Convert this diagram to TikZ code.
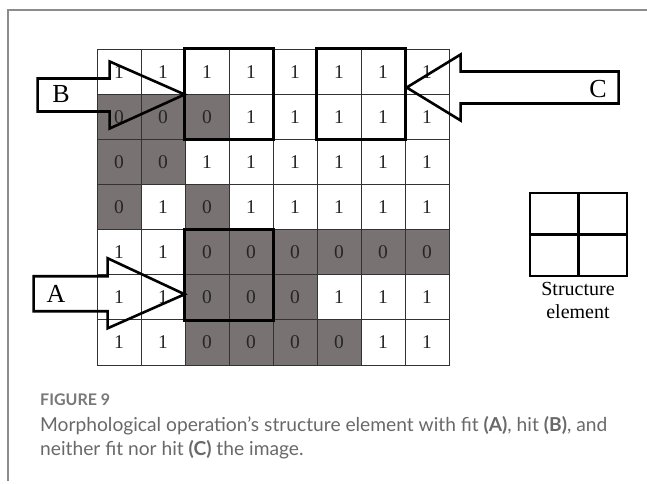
\documentclass[tikz,border=0pt]{standalone}
\usepackage{fontspec}
\setmainfont{Liberation Serif}
\newfontfamily\capfont{Lato}
\usetikzlibrary{calc}
\definecolor{cellgray}{RGB}{120,114,114}
\definecolor{cellline}{RGB}{50,50,50}
\definecolor{framegray}{RGB}{140,140,140}
\definecolor{captext}{RGB}{105,105,105}
\definecolor{capfig}{RGB}{120,120,120}
\tikzset{
  cellbox/.style={draw=cellline, line width=0.7pt, minimum width=44pt, minimum height=45.14pt, inner sep=0pt, font=\fontsize{19.5}{19.5}\selectfont, text=black!85},
  zerocell/.style={cellbox, fill=cellgray},
  onecell/.style={cellbox, fill=white},
  thickbox/.style={draw=black, line width=2.8pt},
  arrowline/.style={draw=black, line width=2.6pt, line join=miter},
  arrowlbl/.style={font=\fontsize{26}{26}\selectfont, inner sep=0pt},
  sebox/.style={draw=black, line width=2.4pt, minimum width=48.5pt, minimum height=41.5pt, inner sep=0pt},
  framel/.style={draw=framegray, line width=1.4pt},
}
\begin{document}
\begin{tikzpicture}[x=1pt,y=-1pt]
\useasboundingbox (0,0) rectangle (647,483);
\fill[white] (0,0) rectangle (647,483);
\draw[framel] (647,10) -- (8,10) -- (8,481);
% grid
\foreach \row [count=\r] in {{1,1,1,1,1,1,1,1},{0,0,0,1,1,1,1,1},{0,0,1,1,1,1,1,1},{0,1,0,1,1,1,1,1},{1,1,0,0,0,0,0,0},{1,1,0,0,0,1,1,1},{1,1,0,0,0,0,1,1}}{
  \foreach \v [count=\c] in \row {
    \ifnum\v=0
      \node[zerocell] (c-\r-\c) at ({97+44*(\c-0.5)},{49+45.14*(\r-0.5)}) {\v};
    \else
      \node[onecell] (c-\r-\c) at ({97+44*(\c-0.5)},{49+45.14*(\r-0.5)}) {\v};
    \fi
  }
}
% thick boxes
\draw[thickbox] (c-1-3.north west) rectangle (c-2-4.south east);
\draw[thickbox] (c-1-6.north west) rectangle (c-2-7.south east);
\draw[thickbox] (c-5-3.north west) rectangle (c-6-4.south east);
% arrow B
\coordinate (tipB) at (c-1-3.south west);
\draw[arrowline, shift={(tipB)}] (0,0) -- (-75,-33) -- (-75,-16) -- (-147,-16) -- (-147,17) -- (-75,17) -- (-75,34) -- cycle;
\node[arrowlbl] (lblB) at (61,94) {B};
% arrow A
\coordinate (tipA) at ($(c-6-3.west)+(0,-3)$);
\draw[arrowline, shift={(tipA)}] (0,0) -- (-77,-36) -- (-77,-18) -- (-151,-18) -- (-151,17) -- (-77,17) -- (-77,34) -- cycle;
\node[arrowlbl] (lblA) at (56,294) {A};
% arrow C
\coordinate (tipC) at ($(c-1-8.south west)+(2,-7)$);
\draw[arrowline, shift={(tipC)}] (0,0) -- (54,-33) -- (54,-16) -- (212,-16) -- (212,16) -- (54,16) -- (54,33) -- cycle;
\node[arrowlbl] (lblC) at (598,89) {C};
% structure element
\node[sebox] (se11) at (554.25,213.75) {};
\node[sebox] (se12) at (602.75,213.75) {};
\node[sebox] (se21) at (554.25,255.25) {};
\node[sebox] (se22) at (602.75,255.25) {};
\node[align=center, font=\fontsize{20}{23}\selectfont, inner sep=0pt, anchor=north] (setext) at (578,282) {Structure\\element};
% caption
\node[anchor=base west, inner sep=0pt, text=capfig, font=\capfont\bfseries\fontsize{16}{16}\selectfont] (figlbl) at (40,405) {FIGURE 9};
\node[anchor=base west, inner sep=0pt, text=captext, font=\capfont\fontsize{19.2}{24}\selectfont] (cap1) at (40,431) {Morphological operation’s structure element with fit \textbf{(A)}, hit \textbf{(B)}, and};
\node[anchor=base west, inner sep=0pt, text=captext, font=\capfont\fontsize{19.2}{24}\selectfont] (cap2) at (40,455) {neither fit nor hit \textbf{(C)} the image.};
\end{tikzpicture}
\end{document}
